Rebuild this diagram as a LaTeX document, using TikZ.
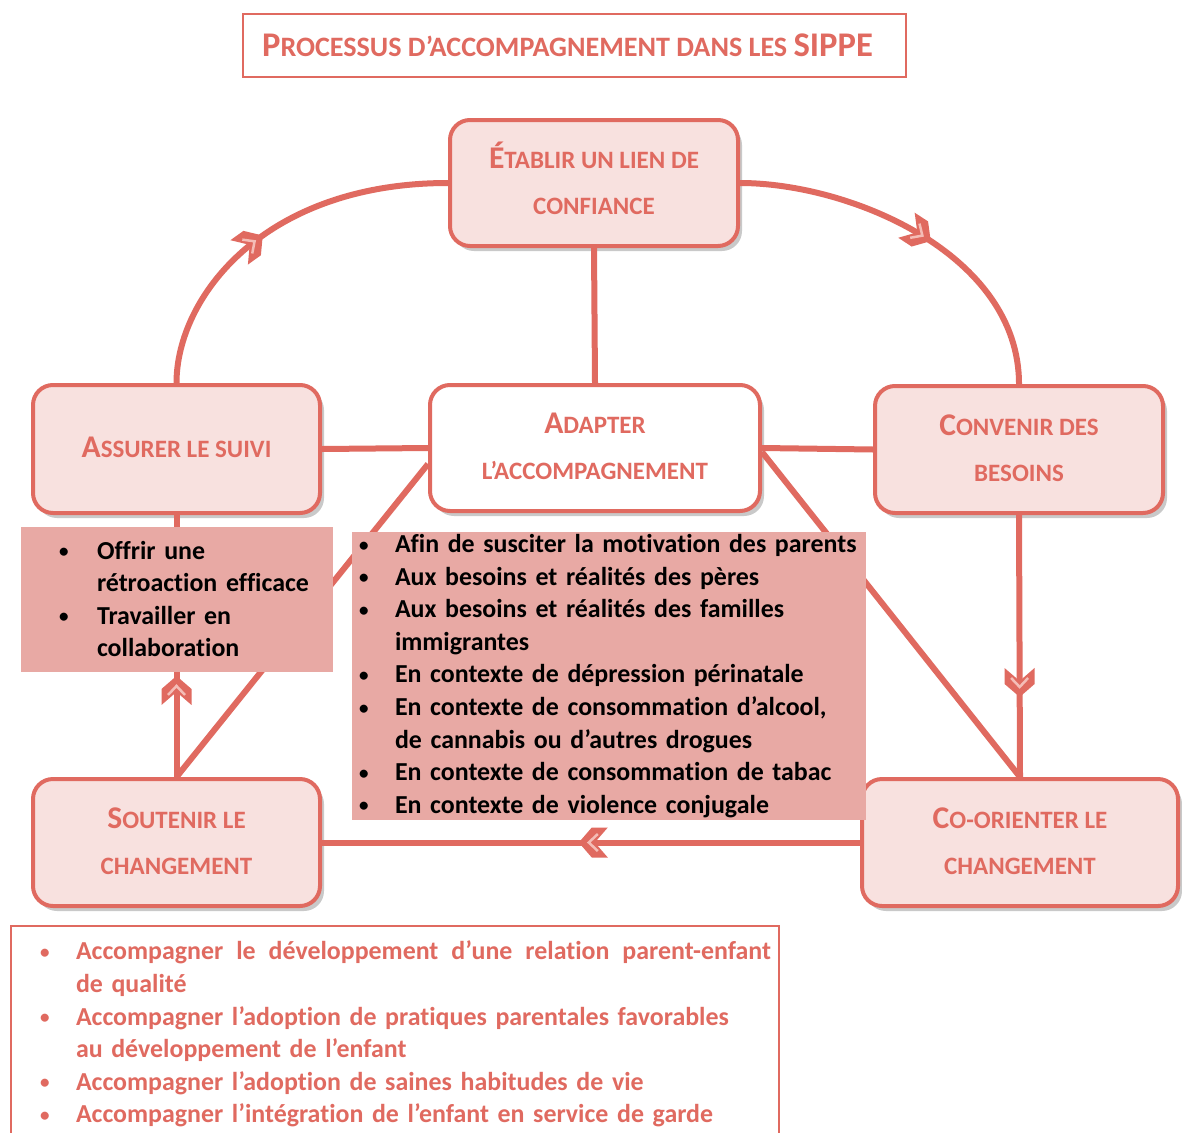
\documentclass[tikz,border=0pt]{standalone}
\usepackage{fontspec}
\setmainfont{Carlito}[Ligatures=NoCommon]
\usetikzlibrary{calc,shadows,decorations.markings}
\definecolor{sipred}{HTML}{E06A60}
\definecolor{sippink}{HTML}{F8E1DF}
\definecolor{sipfill}{HTML}{E8A9A4}
\definecolor{sippale}{HTML}{F4BDB7}
\newcommand\Bg[1]{{\fontsize{31.6}{46}\selectfont #1}}
\newcommand\Tb[1]{{\fontsize{34.6}{40}\selectfont #1}}
\newcommand\Dp[1]{\rule[-#1]{0pt}{0pt}}
\newcommand\blt[1]{\makebox[#1][l]{\raisebox{1.5pt}{\fontsize{19}{20}\selectfont •}}}
\begin{document}
\begin{tikzpicture}[x=1pt,y=-1pt,
  stage/.style={draw=sipred, line width=4pt, fill=sippink, rounded corners=20pt,
    inner sep=0pt, align=center, text=sipred,
    font=\fontsize{25}{46}\selectfont\bfseries,
    drop shadow={shadow xshift=4pt, shadow yshift=-5pt, opacity=0.35, fill=black!60}},
  link/.style={draw=sipred, line width=6pt},
  chev/.style={postaction={decorate, decoration={markings, mark=at position #1 with {
      \fill[sipred] (2pt,0pt) -- (-11pt,15pt) -- (-27pt,15pt) -- (-14pt,0pt)
        -- (-27pt,-15pt) -- (-11pt,-15pt) -- cycle;
      \draw[sippale, line width=2.5pt] (-17pt,8.5pt) -- (-8pt,0pt) -- (-17pt,-8.5pt);}}}},
  listbox/.style={fill=sipfill, inner sep=0pt, align=left, text=black,
    font=\fontsize{25.9}{32.6}\selectfont\bfseries}
]
\useasboundingbox (0,0) rectangle (1182,1132);
\fill[white] (0,0) rectangle (1182,1132);

% title
\node[draw=sipred, line width=2pt, minimum width=663pt, minimum height=63pt, inner sep=0pt,
  text=sipred, font=\fontsize{28.1}{34}\selectfont\bfseries] (title) at (574.5,45.5)
  {\Tb{P}ROCESSUS D’ACCOMPAGNEMENT DANS LES \Tb{SIPPE}\hspace*{14pt}};

% stages
\node[stage, minimum width=288pt, minimum height=126pt] (etab) at (594,183)
  {\Bg{É}TABLIR UN LIEN DE\\CONFIANCE\Dp{10pt}};
\node[stage, fill=white, drop shadow={opacity=0}, minimum width=330pt, minimum height=126pt] (adapt) at (595,448)
  {\Bg{A}DAPTER\\L’ACCOMPAGNEMENT\Dp{3pt}};
\node[stage, minimum width=287pt, minimum height=128pt] (assur) at (176.5,449)
  {\Bg{A}SSURER LE SUIVI\Dp{4pt}};
\node[stage, minimum width=288pt, minimum height=127pt] (conv) at (1019,449.5)
  {\Bg{C}ONVENIR DES\\BESOINS\Dp{3pt}};
\node[stage, minimum width=287pt, minimum height=127pt] (sout) at (176.5,842.5)
  {\Bg{S}OUTENIR LE\\CHANGEMENT\Dp{3pt}};
\node[stage, minimum width=316pt, minimum height=127pt] (coor) at (1020,842.5)
  {\Bg{C}O-ORIENTER LE\\CHANGEMENT\Dp{3pt}};

% connectors
\draw[link, chev=0.47] (assur.north) .. controls +(0,-85) and +(-185,0) .. (etab.west);
\draw[link, chev=0.53] (etab.east) .. controls +(110,0) and +(0,-130) .. (conv.north);
\draw[link] (etab.south) -- (adapt.north);
\draw[link, chev=0.687] (conv.south) -- (coor.north);
\draw[link, chev=0.519] (coor.west) -- (sout.east);
\draw[link, chev=0.378] (sout.north) -- (assur.south);
\draw[link] (assur.east) -- (adapt.west);
\draw[link] (adapt.east) -- (conv.west);
\draw[link] ($(adapt.west)+(0,16)$) -- (sout.north);
\draw[link] ($(adapt.east)+(0,4)$) -- (coor.north);

% lists
\node[listbox, minimum width=312pt, minimum height=145pt, text width=312pt] (suivi) at (177,599)
  {\hspace*{38pt}\blt{38pt}Offrir une\\
   \hspace*{76pt}rétroaction efficace\\
   \hspace*{38pt}\blt{38pt}Travailler en\\
   \hspace*{76pt}collaboration};
\node[listbox, minimum width=514pt, minimum height=288pt, text width=514pt] (adaptlist) at (609,676)
  {\hspace*{7pt}\blt{36pt}Afin de susciter la motivation des parents\\
   \hspace*{7pt}\blt{36pt}Aux besoins et réalités des pères\\
   \hspace*{7pt}\blt{36pt}Aux besoins et réalités des familles\\
   \hspace*{43pt}immigrantes\\
   \hspace*{7pt}\blt{36pt}En contexte de dépression périnatale\\
   \hspace*{7pt}\blt{36pt}En contexte de consommation d’alcool,\\
   \hspace*{43pt}de cannabis ou d’autres drogues\\
   \hspace*{7pt}\blt{36pt}En contexte de consommation de tabac\\
   \hspace*{7pt}\blt{36pt}En contexte de violence conjugale};
\node[draw=sipred, line width=2pt, anchor=north west, inner xsep=0pt, inner ysep=15pt,
  text width=768pt, align=left, text=sipred, font=\fontsize{25.9}{32.6}\selectfont\bfseries] (goals) at (10,925)
  {\hspace*{29pt}\blt{36pt}\makebox[695pt][l]{Accompagner\hfill le\hfill développement\hfill d’une\hfill relation\hfill parent-enfant}\\
   \hspace*{65pt}de qualité\\
   \hspace*{29pt}\blt{36pt}Accompagner l’adoption de pratiques parentales favorables\\
   \hspace*{65pt}au développement de l’enfant\\
   \hspace*{29pt}\blt{36pt}Accompagner l’adoption de saines habitudes de vie\\
   \hspace*{29pt}\blt{36pt}Accompagner l’intégration de l’enfant en service de garde\\[8pt]
   \mbox{}};
\end{tikzpicture}
\end{document}
